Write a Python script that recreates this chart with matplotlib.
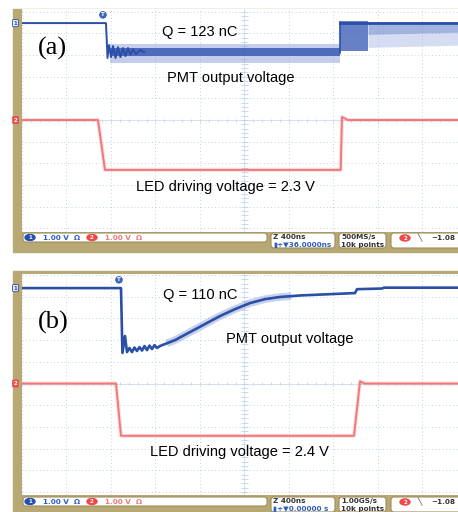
import matplotlib
matplotlib.use("Agg")
import matplotlib.pyplot as plt
import numpy as np
from matplotlib.patches import Rectangle, FancyBboxPatch, Ellipse

# scope captures: time in ns from the left edge (400 ns/div), volts (1 V/div)
# panel (a)
led_a_t = [0, 683, 746, 2865, 2877, 2931, 3920]
led_a_v = [0.0, 0.0, -2.30, -2.30, 0.14, 0.0, 0.0]

pmt_a_t = [0, 746, 755, 769, 782, 800, 818, 841, 863, 885, 908, 930, 953,
           975, 998, 1025, 1061, 1097]
pmt_a_v = [4.47, 4.47, 4.47, 2.86, 3.46, 2.90, 3.41, 2.86, 3.36, 2.90, 3.32,
           2.95, 3.32, 3.00, 3.27, 3.04, 3.23, 3.13]
band_a_t = [790, 2857]
band_a_hi = [3.52, 3.52]
band_a_lo = [2.65, 2.65]
core_a_hi = [3.30, 3.30]
core_a_lo = [2.95, 2.95]
burst_a_t = [2857, 3111]
burst_a_hi = [4.56, 4.56]
burst_a_lo = [3.20, 3.20]
tail_a_t = [3111, 3920]
tail_a_hi = [4.54, 4.54]
tail_a_lo = [3.35, 3.45]
tail_a_mid = [3.95, 4.05]
top_a_t = [2857, 3920]
top_a_v = [4.47, 4.47]

# panel (b)
led_b_t = [0, 845, 890, 2985, 3039, 3080, 3920]
led_b_v = [0.0, 0.0, -2.41, -2.41, 0.10, 0.0, 0.0]

pmt_b_t = [0, 890, 903, 926, 944, 966, 989, 1011, 1034, 1056, 1079, 1101,
           1124, 1146, 1169, 1191, 1214, 1241, 1375, 1510, 1645, 1780, 1915,
           2050, 2185, 2319, 2499, 2769, 2994, 3012, 3236, 3254, 3920]
pmt_b_v = [4.40, 4.40, 1.41, 2.19, 1.45, 1.64, 1.45, 1.66, 1.50, 1.68, 1.52,
           1.73, 1.54, 1.75, 1.59, 1.77, 1.64, 1.73, 2.00, 2.37, 2.74, 3.11,
           3.43, 3.71, 3.89, 3.99, 4.06, 4.12, 4.17, 4.35, 4.38, 4.42, 4.42]
ramp_b_t = [1300, 1375, 1510, 1645, 1780, 1915, 2050, 2185, 2319, 2420]
ramp_b_v = [1.85, 2.00, 2.37, 2.74, 3.11, 3.43, 3.71, 3.89, 3.99, 4.03]

W, H = 458, 512
KHAKI = "#B8A974"
BOX_EDGE = "#9C8F5E"
GRID = "#BDD3EE"
BLUE = "#2B4FA6"
RED = "#F07878"
TXT_BLUE = "#2F5CC0"


def fx(px):
    return px / W


def fy(py):
    return 1 - py / H


fig = plt.figure(figsize=(W / 100, H / 100), dpi=100)
fig.patch.set_facecolor("white")


def khaki(py0, py1):
    fig.patches.append(Rectangle((fx(13), fy(py1)), 1 - fx(13), fy(py0) - fy(py1),
                                 transform=fig.transFigure, color=KHAKI, zorder=-5))


def screen(py0, py1, ylo, yhi):
    ax = fig.add_axes([fx(22), fy(py1), 1 - fx(22), fy(py0) - fy(py1)])
    ax.set_zorder(2)
    ax.set_xlim(0, 3920)
    ax.set_ylim(ylo, yhi)
    ax.set_facecolor("white")
    for s in ax.spines.values():
        s.set_visible(False)
    ax.set_xticks([])
    ax.set_yticks([])
    # graticule
    for k in range(0, 11):
        ax.axvline(k * 400, color=GRID, lw=0.7, ls=(0, (1, 2.6)), zorder=1)
    for k in range(-5, 6):
        ax.axhline(k, color=GRID, lw=0.7, ls=(0, (1, 2.6)), zorder=1)
    ax.axhline(0, color="#CFDFF2", lw=0.6, zorder=1)
    ax.axvline(2000, color="#CFDFF2", lw=0.6, zorder=1)
    ticks_t = np.arange(0, 3921, 80)
    ax.vlines(ticks_t, -0.07, 0.07, color=GRID, lw=0.6, zorder=1)
    ticks_v = np.arange(-5, 5.01, 0.2)
    ax.hlines(ticks_v, 1965, 2035, color=GRID, lw=0.6, zorder=1)
    return ax


def chan_marks(ax, v1, v2):
    ax.text(-58, v1, "1", ha="center", va="center", fontsize=4, color=BLUE,
            fontweight="bold", clip_on=False, zorder=9,
            bbox=dict(boxstyle="round,pad=0.2", fc="#E4EBF8", ec=BLUE, lw=0.6))
    ax.text(-58, v2, "2", ha="center", va="center", fontsize=4, color="white",
            fontweight="bold", clip_on=False, zorder=9,
            bbox=dict(boxstyle="round,pad=0.2", fc="#EE5050", ec="#EE5050", lw=0.6))


def trig_mark(ax, t, v):
    ax.text(t, v, "T", ha="center", va="center", fontsize=4, color="white",
            fontweight="bold", zorder=6,
            bbox=dict(boxstyle="circle,pad=0.15", fc="#3D6BC4", ec="#2B4FA6", lw=0.5))


def status(py0, offset, rate):
    def box(x0, x1, y0, y1):
        fig.patches.append(FancyBboxPatch((fx(x0), fy(y1)), fx(x1) - fx(x0), fy(y0) - fy(y1),
                                          boxstyle="round,pad=0,rounding_size=0.006",
                                          transform=fig.transFigure, fc="white",
                                          ec=BOX_EDGE, lw=0.8, zorder=1))
    box(23, 267, py0, py0 + 9)
    box(271, 335, py0, py0 + 15)
    box(339, 386, py0, py0 + 15)
    box(391, 470, py0, py0 + 15)
    kw = dict(fontsize=5.2, fontweight="bold", va="center", family="DejaVu Sans", zorder=3)
    ym = fy(py0 + 4.5)
    fig.patches.append(Ellipse((fx(30), ym), fx(10), 6 / H, transform=fig.transFigure,
                               color="#2350B0", zorder=2))
    fig.text(fx(30), ym, "1", color="white", ha="center", **{**kw, "fontsize": 4})
    fig.text(fx(43), ym, "1.00 V  \u03a9", color=TXT_BLUE, **kw)
    fig.patches.append(Ellipse((fx(92), ym), fx(10), 6 / H, transform=fig.transFigure,
                               color="#EE4848", zorder=2))
    fig.text(fx(92), ym, "2", color="white", ha="center", **{**kw, "fontsize": 4})
    fig.text(fx(105), ym, "1.00 V  \u03a9", color=RED, **kw)
    fig.text(fx(273), fy(py0 + 4), "Z 400ns", color="#333333", **kw)
    fig.text(fx(273), fy(py0 + 11.5), "\u25ae+\u25bc" + offset, color=TXT_BLUE, **kw)
    fig.text(fx(341), fy(py0 + 4), rate, color="#333333", **kw)
    fig.text(fx(341), fy(py0 + 11.5), "10k points", color="#333333", **kw)
    fig.patches.append(Ellipse((fx(405), fy(py0 + 5)), fx(10), 6 / H,
                               transform=fig.transFigure, color="#EE4848", zorder=2))
    fig.text(fx(405), fy(py0 + 5), "2", color="white", ha="center", **{**kw, "fontsize": 4})
    fig.text(fx(417), fy(py0 + 5), "\u2572", color="#333333", **kw)
    fig.text(fx(431), fy(py0 + 5), "\u22121.08", color="#333333", **kw)


label_kw = dict(fontsize=10.5, family="Liberation Sans", ha="center", va="center",
                color="black", zorder=8)
panel_kw = dict(fontsize=19, family="Liberation Serif", ha="center", va="center",
                color="black", zorder=8)

# ---------------- panel (a) ----------------
khaki(9, 252)
ax = screen(9, 231.7, -5.15, 5.12)
ax.plot(led_a_t, led_a_v, color=RED, lw=3.0, alpha=0.22, zorder=3)
ax.plot(led_a_t, led_a_v, color=RED, lw=1.4, zorder=4)
ax.fill_between(band_a_t, band_a_lo, band_a_hi, color="#9DAEE0", alpha=0.6, lw=0, zorder=3)
ax.fill_between(band_a_t, core_a_lo, core_a_hi, color="#3A5BB3", alpha=0.85, lw=0, zorder=4)
ax.fill_between(burst_a_t, burst_a_lo, burst_a_hi, color="#4062B8", alpha=0.8, lw=0, zorder=3)
ax.fill_between(tail_a_t, tail_a_lo, tail_a_hi, color="#9AACE0", alpha=0.4, lw=0, zorder=3)
ax.fill_between(tail_a_t, tail_a_mid, tail_a_hi, color="#6580CA", alpha=0.45, lw=0, zorder=3)
ax.plot(top_a_t, top_a_v, color=BLUE, lw=2.0, zorder=5)
ax.plot(pmt_a_t, pmt_a_v, color=BLUE, lw=1.4, zorder=5)
ax.plot([band_a_t[-1], burst_a_t[0]], [3.1, 4.5], color=BLUE, lw=1.2, zorder=5)
chan_marks(ax, 4.47, 0.0)
trig_mark(ax, 728, 4.85)
ax.text(278, 3.32, "(a)", **panel_kw)
ax.text(1600, 4.06, "Q = 123 nC", **label_kw)
ax.text(1874, 1.94, "PMT output voltage", **label_kw)
ax.text(1825, -3.09, "LED driving voltage = 2.3 V", **label_kw)
status(233, "36.0000ns", "500MS/s")

# ---------------- panel (b) ----------------
khaki(271, 512)
ax = screen(274, 495, -5.14, 5.05)
ax.plot(led_b_t, led_b_v, color=RED, lw=3.0, alpha=0.22, zorder=3)
ax.plot(led_b_t, led_b_v, color=RED, lw=1.4, zorder=4)
ax.plot(ramp_b_t, ramp_b_v, color="#6580CA", lw=5.5, alpha=0.35, zorder=4,
        solid_capstyle="butt")
ax.plot(pmt_b_t, pmt_b_v, color=BLUE, lw=1.9, zorder=5)
chan_marks(ax, 4.40, 0.0)
trig_mark(ax, 872, 4.78)
ax.text(278, 2.83, "(b)", **panel_kw)
ax.text(1605, 4.08, "Q = 110 nC", **label_kw)
ax.text(2405, 2.05, "PMT output voltage", **label_kw)
ax.text(1951, -3.16, "LED driving voltage = 2.4 V", **label_kw)
status(497, "0.00000 s", "1.00GS/s")

fig.savefig("out.png", dpi=100, facecolor="white")
